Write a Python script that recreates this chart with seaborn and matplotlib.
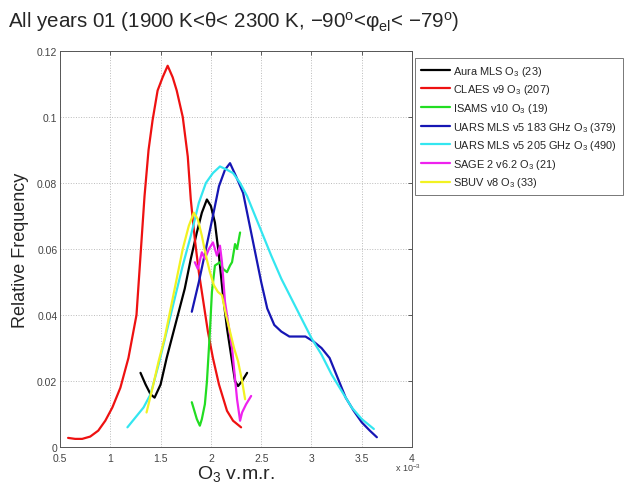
import matplotlib
matplotlib.use("Agg")
import matplotlib.pyplot as plt
import seaborn as sns
import pandas as pd
from matplotlib.ticker import MultipleLocator, FormatStrFormatter

# Dữ liệu (x tính theo đơn vị 1e-3)
aura_x = [1.30, 1.35, 1.40, 1.44, 1.50, 1.56, 1.62, 1.68, 1.74, 1.80, 1.86, 1.91, 1.96, 2.00, 2.04, 2.08, 2.12, 2.16, 2.20, 2.24, 2.27, 2.31, 2.36]
aura_y = [0.0225, 0.019, 0.016, 0.015, 0.019, 0.027, 0.034, 0.041, 0.048, 0.057, 0.065, 0.071, 0.075, 0.073, 0.068, 0.058, 0.046, 0.036, 0.028, 0.020, 0.0185, 0.020, 0.0225]

claes_x = [0.58, 0.65, 0.72, 0.80, 0.88, 0.95, 1.02, 1.10, 1.18, 1.26, 1.30, 1.34, 1.38, 1.42, 1.47, 1.52, 1.57, 1.62, 1.66, 1.72, 1.77, 1.80, 1.84, 1.88, 1.92, 1.97, 2.02, 2.08, 2.16, 2.22, 2.30]
claes_y = [0.0028, 0.0025, 0.0025, 0.0032, 0.0050, 0.0080, 0.012, 0.018, 0.027, 0.040, 0.058, 0.076, 0.090, 0.099, 0.108, 0.112, 0.1155, 0.112, 0.108, 0.100, 0.088, 0.075, 0.063, 0.053, 0.045, 0.035, 0.027, 0.019, 0.011, 0.008, 0.006]

isams_x = [1.81, 1.86, 1.89, 1.91, 1.94, 1.96, 1.99, 2.01, 2.04, 2.09, 2.12, 2.16, 2.19, 2.21, 2.24, 2.26, 2.29]
isams_y = [0.0136, 0.0085, 0.0065, 0.0085, 0.013, 0.0197, 0.035, 0.047, 0.055, 0.056, 0.054, 0.053, 0.055, 0.056, 0.0615, 0.060, 0.065]

uars183_x = [1.81, 1.88, 1.95, 2.02, 2.08, 2.14, 2.19, 2.25, 2.32, 2.38, 2.44, 2.50, 2.56, 2.63, 2.70, 2.78, 2.86, 2.94, 3.02, 3.10, 3.18, 3.26, 3.34, 3.42, 3.50, 3.58, 3.65]
uars183_y = [0.041, 0.050, 0.060, 0.070, 0.079, 0.084, 0.086, 0.082, 0.077, 0.068, 0.059, 0.050, 0.042, 0.037, 0.035, 0.0335, 0.0335, 0.0335, 0.032, 0.030, 0.027, 0.021, 0.015, 0.011, 0.0075, 0.005, 0.003]

uars205_x = [1.17, 1.25, 1.33, 1.40, 1.48, 1.56, 1.64, 1.72, 1.80, 1.88, 1.95, 2.02, 2.09, 2.16, 2.22, 2.29, 2.36, 2.44, 2.52, 2.60, 2.70, 2.80, 2.90, 3.00, 3.10, 3.20, 3.30, 3.40, 3.50, 3.62]
uars205_y = [0.006, 0.009, 0.012, 0.016, 0.025, 0.035, 0.045, 0.055, 0.064, 0.074, 0.080, 0.083, 0.085, 0.084, 0.083, 0.080, 0.076, 0.070, 0.064, 0.058, 0.051, 0.045, 0.039, 0.033, 0.028, 0.022, 0.017, 0.012, 0.0085, 0.0055]

sage_x = [1.84, 1.87, 1.91, 1.94, 1.98, 2.02, 2.06, 2.09, 2.11, 2.14, 2.18, 2.21, 2.26, 2.29, 2.31, 2.35, 2.40]
sage_y = [0.056, 0.054, 0.059, 0.057, 0.060, 0.062, 0.058, 0.061, 0.056, 0.044, 0.036, 0.030, 0.0145, 0.008, 0.0105, 0.013, 0.0155]

sbuv_x = [1.36, 1.42, 1.48, 1.54, 1.60, 1.66, 1.72, 1.78, 1.83, 1.87, 1.91, 1.95, 1.99, 2.03, 2.07, 2.11, 2.15, 2.19, 2.23, 2.27, 2.31, 2.34]
sbuv_y = [0.0105, 0.018, 0.026, 0.033, 0.042, 0.051, 0.060, 0.067, 0.071, 0.069, 0.064, 0.058, 0.053, 0.049, 0.047, 0.046, 0.040, 0.035, 0.030, 0.026, 0.020, 0.0145]

labels = ["Aura MLS O$_3$ (23)", "CLAES v9 O$_3$ (207)", "ISAMS v10 O$_3$ (19)",
          "UARS MLS v5 183 GHz O$_3$ (379)", "UARS MLS v5 205 GHz O$_3$ (490)",
          "SAGE 2 v6.2 O$_3$ (21)", "SBUV v8 O$_3$ (33)"]
colors = ["#000000", "#ee1111", "#22dd22", "#1616b4", "#33e6f0", "#ee22ee", "#f2f222"]
series = [(aura_x, aura_y), (claes_x, claes_y), (isams_x, isams_y),
          (uars183_x, uars183_y), (uars205_x, uars205_y), (sage_x, sage_y), (sbuv_x, sbuv_y)]

rows = []
for lab, (xs, ys) in zip(labels, series):
    for i, (xv, yv) in enumerate(zip(xs, ys)):
        rows.append({"instrument": lab, "o3": xv, "freq": yv, "order": i})
df = pd.DataFrame(rows)

sns.set_style("white")
plt.rcParams['font.family'] = ['Liberation Sans', 'DejaVu Sans']
plt.rcParams['mathtext.fontset'] = 'custom'
plt.rcParams['mathtext.rm'] = 'Liberation Sans'
plt.rcParams['mathtext.it'] = 'Liberation Sans'

fig = plt.figure(figsize=(6.32, 4.85), dpi=100)
ax = fig.add_axes([0.095, 0.076, 0.557, 0.817])

sns.lineplot(data=df, x="o3", y="freq", hue="instrument", hue_order=labels,
             palette=dict(zip(labels, colors)), sort=False, estimator=None,
             linewidth=1.6, ax=ax, legend=False)

ax.set_xlim(0.5, 4)
ax.set_ylim(0, 0.12)
ax.xaxis.set_major_locator(MultipleLocator(0.5))
ax.yaxis.set_major_locator(MultipleLocator(0.02))
ax.xaxis.set_major_formatter(FormatStrFormatter('%g'))
ax.yaxis.set_major_formatter(FormatStrFormatter('%g'))
ax.tick_params(direction='in', top=True, right=True, labelsize=7.5, colors='#444444',
               length=3, width=0.6, pad=2)
ax.tick_params(axis='x', pad=4)
ax.grid(True, linestyle=':', color='#bbbbbb', linewidth=0.7)
for sp in ax.spines.values():
    sp.set_color('#555555')
    sp.set_linewidth(0.7)

ax.set_xlabel("O$_3$ v.m.r.", fontsize=14, labelpad=0)
ax.set_ylabel("Relative Frequency", fontsize=13, labelpad=6)
fig.text(0.012, 0.955, "All years 01 (1900 K<θ< 2300 K, −90$^{o}$<φ$_{el}$< −79$^{o}$)",
         fontsize=14.8, ha='left', va='center')
fig.text(0.625, 0.035, r"x 10$^{-3}$", fontsize=6.5, color='#444444', ha='left', va='center')

handles = [plt.Line2D([], [], color=c, linewidth=1.6) for c in colors]
leg = fig.legend(handles, labels, loc='upper left', bbox_to_anchor=(0.657, 0.879),
                 fontsize=7.9, frameon=True, fancybox=False, borderpad=0.55,
                 borderaxespad=0, handlelength=2.6, handletextpad=0.3, labelspacing=0.42)
leg.get_frame().set_edgecolor('#555555')
leg.get_frame().set_linewidth(0.7)

fig.savefig("out.png", dpi=100)
